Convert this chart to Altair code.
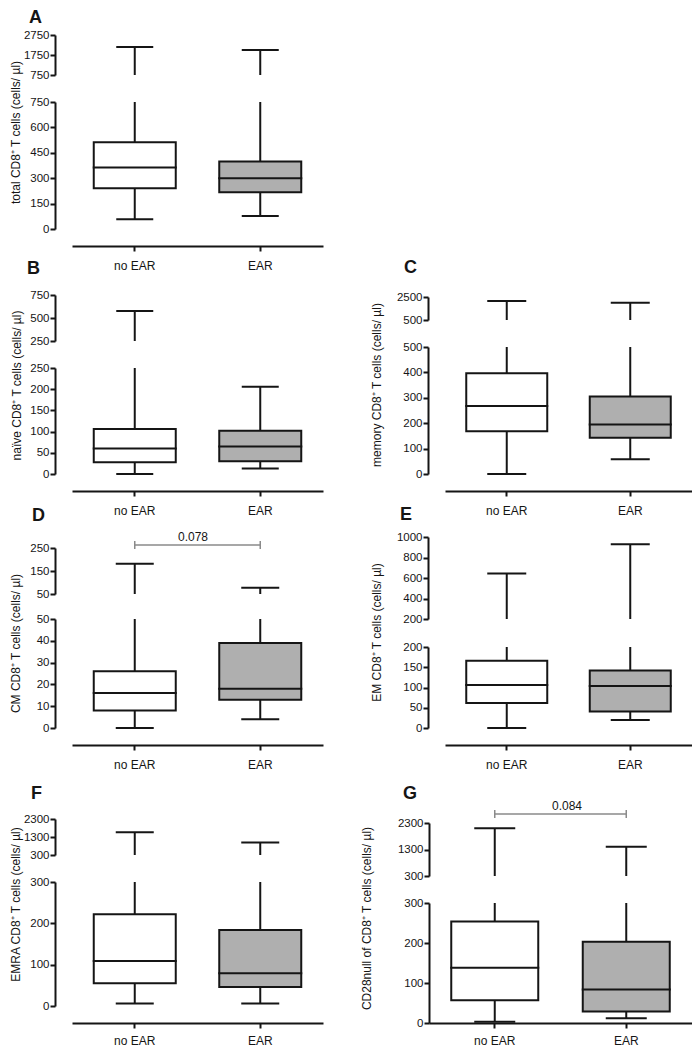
import altair as alt
import pandas as pd

# ---------------- data ----------------
groups = ["no EAR", "EAR"]
panel_letters = ["A", "B", "C", "D", "E", "F", "G"]
y_titles = [
    "total CD8⁺ T cells (cells/ µl)",
    "naïve CD8⁺ T cells (cells/ µl)",
    "memory CD8⁺ T cells (cells/ µl)",
    "CM CD8⁺ T cells (cells/ µl)",
    "EM CD8⁺ T cells (cells/ µl)",
    "EMRA CD8⁺ T cells (cells/ µl)",
    "CD28null of CD8⁺ T cells (cells/ µl)",
]
whisker_low = [[57, 77], [0, 13], [0, 58], [0, 4], [0, 20], [6, 6], [3, 12]]
quartile_1 = [[241, 217], [28, 30], [168, 143], [8, 13], [62, 41], [55, 46], [57, 29]]
median = [[363, 300], [60, 65], [268, 195], [16, 18], [106, 104], [109, 79], [138, 84]]
quartile_3 = [[513, 398], [106, 102], [397, 305], [26, 39], [166, 142], [222, 184], [254, 203]]
whisker_high = [[2150, 2000], [575, 206], [2150, 2010], [182, 77], [645, 930], [1560, 1000], [2100, 1400]]
axis_break = [750, 250, 500, 50, 200, 300, 300]
upper_limit = [2750, 750, 2500, 250, 1000, 2300, 2300]
lower_ticks = [
    [0, 150, 300, 450, 600, 750],
    [0, 50, 100, 150, 200, 250],
    [0, 100, 200, 300, 400, 500],
    [0, 10, 20, 30, 40, 50],
    [0, 50, 100, 150, 200],
    [0, 100, 200, 300],
    [0, 100, 200, 300],
]
upper_ticks = [
    [750, 1750, 2750],
    [250, 500, 750],
    [500, 2500],
    [50, 150, 250],
    [200, 400, 600, 800, 1000],
    [300, 1300, 2300],
    [300, 1300, 2300],
]
p_values = {3: "0.078", 6: "0.084"}

# ---------------- styles / layout (pixels) ----------------
FONT = "Liberation Sans"
INK = "#151515"
GREY = "#8a8a8a"
BOX_FILL = ["#ffffff", "#afafaf"]
RW = 247  # plot width of the right-hand column

layout = [
    dict(w=251, h=204, yr_up=[50, 10], yr_low=[204, 77], lx=-43, ly=-7, off=17, xr=[0, 251], tx=-33, ty=107, box=84, cap=37, xpad=9),
    dict(w=251, h=245, yr_up=[112, 66], yr_low=[245, 139], lx=-45, ly=40, off=17, xr=[0, 251], tx=-32, ty=156, box=84, cap=37, xpad=9),
    dict(w=RW, h=245, yr_up=[91, 68], yr_low=[245, 118], lx=-41, ly=39, off=17, xr=[0, RW], tx=-45, ty=155.5, box=83, cap=39, xpad=9),
    dict(w=251, h=254, yr_up=[120, 74], yr_low=[254, 145], lx=-40, ly=42, off=17, xr=[0, 251], tx=-33, ty=169, box=84, cap=38,
         by=71, px=121, xpad=9),
    dict(w=RW, h=254, yr_up=[145, 63], yr_low=[254, 173], lx=-45, ly=41, off=17, xr=[0, RW], tx=-45, ty=158, box=83, cap=39, xpad=9),
    dict(w=251, h=278, yr_up=[127, 91], yr_low=[278, 154], lx=-41, ly=66, off=17, xr=[0, 251], tx=-33, ty=176, box=84, cap=38, xpad=7),
    dict(w=RW, h=278, yr_up=[148, 95], yr_low=[295, 175], lx=-42, ly=66, off=16, xr=[-16, RW], tx=-56, ty=190, box=89, cap=41,
         by=86, px=122, xpad=7),
]

AX = dict(grid=False, domainColor=INK, domainWidth=2, tickColor=INK, tickWidth=2, tickSize=5,
          labelFontSize=11.5, labelColor=INK, labelPadding=1, labelFont=FONT, labelOverlap=False,
          format="d", orient="left")


def stats(i):
    d = pd.DataFrame({
        "group": groups,
        "wmin": whisker_low[i],
        "q1": quartile_1[i],
        "med": median[i],
        "q3": quartile_3[i],
        "wmax": whisker_high[i],
    })
    d["hi_low"] = d["wmax"].clip(upper=axis_break[i])
    d["brk"] = axis_break[i]
    return d


def xscale(i):
    return alt.Scale(domain=groups, range=layout[i]["xr"], paddingInner=0, paddingOuter=0)


def spacer(w, h):
    return alt.Chart(pd.DataFrame({"t": [""]})).mark_text().encode(text="t:N").properties(width=w, height=h)


def header(i):
    L = layout[i]
    letter = alt.Chart(pd.DataFrame({"letter": [panel_letters[i]]})).mark_text(
        align="left", baseline="middle", fontSize=18, fontWeight="bold", color=INK, font=FONT
    ).encode(text="letter:N", x=alt.value(L["lx"]), y=alt.value(L["ly"]))
    layers = [letter]
    if i in p_values:
        by = L["by"]
        line = alt.Chart(pd.DataFrame({"a": [groups[0]], "b": [groups[1]]})).mark_rule(
            color=GREY, strokeWidth=1.5
        ).encode(x=alt.X("a:N", scale=xscale(i), axis=None), x2="b:N", y=alt.value(by))
        ends = alt.Chart(pd.DataFrame({"group": groups})).mark_rule(color=GREY, strokeWidth=1.5).encode(
            x=alt.X("group:N", scale=xscale(i), axis=None), y=alt.value(by - 4), y2=alt.value(by + 4)
        )
        txt = alt.Chart(pd.DataFrame({"p": [p_values[i]]})).mark_text(
            fontSize=12, baseline="bottom", align="center", color=INK, font=FONT
        ).encode(text="p:N", x=alt.value(L["px"]), y=alt.value(by - 1.5))
        layers += [line, ends, txt]
    return alt.layer(*layers)


def upper(i):
    L = layout[i]
    d = stats(i)
    du = d[d["wmax"] > axis_break[i]]
    ys = alt.Scale(domain=[axis_break[i], upper_limit[i]], range=L["yr_up"], nice=False, zero=False)
    yax = alt.Axis(values=upper_ticks[i], offset=L["off"], title=None, **AX)

    def X():
        return alt.X("group:N", scale=xscale(i), axis=None, sort=groups)

    def Y(f):
        return alt.Y(f, type="quantitative", scale=ys, axis=yax)

    rule = alt.Chart(du).mark_rule(color=INK, strokeWidth=2).encode(x=X(), y=Y("brk"), y2="wmax")
    cap = alt.Chart(du).mark_tick(orient="horizontal", size=L["cap"], thickness=2, color=INK, opacity=1).encode(
        x=X(), y=Y("wmax")
    )
    return alt.layer(rule, cap)


def lower(i):
    L = layout[i]
    d = stats(i)
    xax = alt.Axis(title=None, offset=17, domainColor=INK, domainWidth=2, tickColor=INK, tickWidth=2,
                   tickSize=5, labelFontSize=12, labelColor=INK, labelPadding=L["xpad"], labelAngle=0, grid=False,
                   labelFont=FONT)
    ys = alt.Scale(domain=[0, axis_break[i]], range=L["yr_low"], nice=False, zero=False)
    yax = alt.Axis(values=lower_ticks[i], offset=L["off"], title=y_titles[i], titleX=L["tx"], titleY=L["ty"],
                   titleAngle=270, titleAlign="center", titleBaseline="bottom", titleFontSize=12,
                   titleFontWeight="normal", titleColor=INK, titleFont=FONT, **AX)

    def X():
        return alt.X("group:N", scale=xscale(i), axis=xax, sort=groups)

    def Y(f):
        return alt.Y(f, type="quantitative", scale=ys, axis=yax)

    base = alt.Chart(d)
    lo = base.mark_rule(color=INK, strokeWidth=2).encode(x=X(), y=Y("wmin"), y2="q1")
    hi = base.mark_rule(color=INK, strokeWidth=2).encode(x=X(), y=Y("q3"), y2="hi_low")
    box = base.mark_bar(width=L["box"] - 2, stroke=INK, strokeWidth=2, opacity=1).encode(
        x=X(), y=Y("q1"), y2="q3",
        fill=alt.Fill("group:N", scale=alt.Scale(domain=groups, range=BOX_FILL), legend=None),
    )
    med = base.mark_tick(orient="horizontal", size=L["box"], thickness=2, color=INK, opacity=1).encode(
        x=X(), y=Y("med")
    )
    caplo = base.mark_tick(orient="horizontal", size=L["cap"], thickness=2, color=INK, opacity=1).encode(
        x=X(), y=Y("wmin")
    )
    layers = [lo, hi, box, med, caplo]
    dcap = d[d["wmax"] <= axis_break[i]]
    if len(dcap):
        layers.append(
            alt.Chart(dcap).mark_tick(orient="horizontal", size=L["cap"], thickness=2, color=INK, opacity=1).encode(
                x=X(), y=Y("wmax")
            )
        )
    return alt.layer(*layers)


def panel(i):
    L = layout[i]
    return (
        alt.layer(upper(i), lower(i), header(i))
        .resolve_scale(x="independent", y="independent", fill="independent")
        .properties(width=L["w"], height=L["h"])
    )


cells = [panel(0), spacer(RW, 204), panel(1), panel(2), panel(3), panel(4), panel(5), panel(6)]

# the grid origin (top-left of panel A's plot) sits at page (72, 25); the svg is 684 x 1039
chart = alt.ConcatChart(
    concat=cells,
    columns=2,
    spacing={"row": 0, "column": 122},
    bounds="flush",
    align="each",
    autosize=alt.AutoSizeParams(type="none"),
    padding={"left": 64, "top": 17, "right": 620, "bottom": 1022},
).resolve_scale(x="independent", y="independent", fill="independent")

chart = chart.configure(font=FONT).configure_view(stroke="transparent")

chart.save("out.html", embed_options={"renderer": "svg", "actions": False})
